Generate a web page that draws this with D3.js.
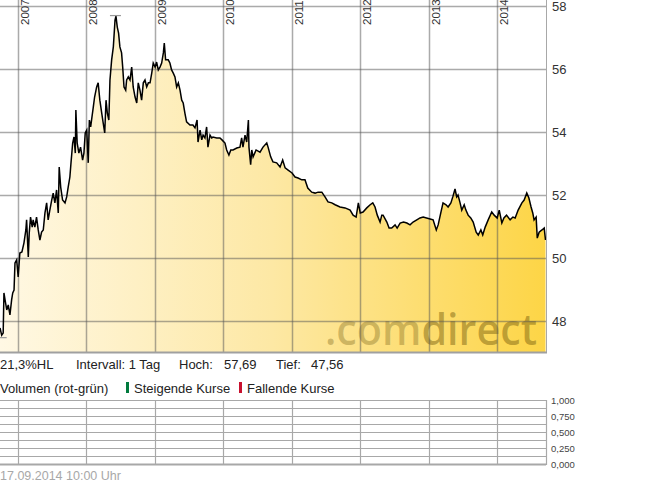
<!DOCTYPE html>
<html><head><meta charset="utf-8">
<script src="https://cdn.jsdelivr.net/npm/d3@7"></script>
<style>html,body{margin:0;padding:0;background:#fff;} svg{display:block;font-family:"Liberation Sans",Arial,sans-serif;}</style>
</head><body><svg id="c" width="645" height="483"></svg>
<script>
const dates = [
"2006-09-27","2006-10-06","2006-10-14","2006-10-18","2006-10-24","2006-11-02","2006-11-10","2006-11-19","2006-11-28","2006-12-04","2006-12-11","2006-12-16","2006-12-25",
"2007-01-02","2007-01-11","2007-01-22","2007-02-02","2007-02-12","2007-02-16","2007-02-25","2007-03-02","2007-03-09","2007-03-18","2007-03-23","2007-04-01","2007-04-10","2007-04-19","2007-04-28","2007-05-07","2007-05-16","2007-05-25","2007-06-03","2007-06-11","2007-06-20","2007-06-30","2007-07-08","2007-07-17","2007-07-26","2007-08-04","2007-08-09","2007-08-17","2007-08-27","2007-09-09","2007-09-18","2007-09-26","2007-10-05","2007-10-11","2007-10-20","2007-10-27","2007-11-03","2007-11-06","2007-11-13","2007-11-22","2007-12-01","2007-12-12","2007-12-19","2007-12-26",
"2008-01-03","2008-01-11","2008-01-17","2008-01-24","2008-01-31","2008-02-07","2008-02-14","2008-02-25","2008-03-04","2008-03-13","2008-03-23","2008-03-31","2008-04-08","2008-04-15","2008-04-22","2008-04-30","2008-05-06","2008-05-15","2008-05-24","2008-06-02","2008-06-07","2008-06-14","2008-06-21","2008-06-28","2008-07-07","2008-07-13","2008-07-20","2008-07-29","2008-08-03","2008-08-12","2008-08-21","2008-08-30","2008-09-07","2008-09-17","2008-09-26","2008-10-04","2008-10-13","2008-10-22","2008-10-31","2008-11-09","2008-11-18","2008-11-27","2008-12-06","2008-12-15","2008-12-23",
"2009-01-02","2009-01-10","2009-01-19","2009-01-28","2009-02-06","2009-02-15","2009-02-20","2009-02-27","2009-03-13","2009-03-22","2009-03-31","2009-04-09","2009-04-18","2009-04-27","2009-05-06","2009-05-15","2009-05-24","2009-06-01","2009-06-10","2009-06-19","2009-07-07","2009-07-23","2009-08-03","2009-08-14","2009-08-19","2009-08-30","2009-09-08","2009-09-15","2009-09-25","2009-10-04","2009-10-11","2009-10-22","2009-10-31","2009-11-07","2009-11-27","2009-12-14","2009-12-25",
"2010-01-10","2010-01-19","2010-01-31","2010-02-10","2010-02-22","2010-03-14","2010-03-31","2010-04-09","2010-04-16","2010-04-27","2010-05-06","2010-05-15","2010-05-18","2010-05-27","2010-06-02","2010-06-09","2010-06-25","2010-07-16","2010-08-01","2010-08-21","2010-08-28","2010-09-11","2010-09-23","2010-10-13","2010-10-31","2010-11-14","2010-11-27","2010-12-13",
"2011-01-03","2011-01-19","2011-02-04","2011-02-24","2011-03-13","2011-03-28","2011-04-18","2011-05-06","2011-05-22","2011-06-11","2011-06-28","2011-07-14","2011-08-03","2011-08-21","2011-09-16","2011-10-13","2011-11-09","2011-11-25","2011-12-11","2011-12-23",
"2012-01-02","2012-01-17","2012-02-06","2012-02-24","2012-03-09","2012-03-21","2012-04-02","2012-04-17","2012-04-26","2012-05-03","2012-05-23","2012-06-04","2012-06-18","2012-07-06","2012-07-17","2012-08-02","2012-08-20","2012-09-07","2012-09-24","2012-10-10","2012-10-30","2012-11-16","2012-12-03","2012-12-21",
"2013-01-09","2013-01-25","2013-02-11","2013-02-21","2013-03-07","2013-03-19","2013-04-04","2013-04-15","2013-04-30","2013-05-10","2013-05-22","2013-05-31","2013-06-07","2013-06-18","2013-06-27","2013-07-10","2013-07-19","2013-07-31","2013-08-14","2013-08-27","2013-09-12","2013-09-23","2013-10-07","2013-10-17","2013-10-30","2013-11-15","2013-12-04","2013-12-17",
"2014-01-02","2014-01-13","2014-01-27","2014-02-07","2014-02-21","2014-03-12","2014-03-27","2014-04-08","2014-04-24","2014-05-14","2014-05-26","2014-06-09","2014-06-20","2014-07-02","2014-07-11","2014-07-18","2014-07-29","2014-08-04","2014-08-14","2014-08-29","2014-09-10","2014-09-17"
];
const prices = [
47.79,47.56,47.63,48.90,48.68,48.36,48.52,48.20,48.68,48.90,48.99,49.85,49.95,
49.41,50.17,50.20,50.49,50.90,51.22,50.04,50.80,51.31,50.99,51.22,50.99,51.31,50.90,50.58,50.83,50.90,51.44,51.76,51.22,51.53,51.85,52.07,51.76,52.17,51.44,52.90,52.26,51.85,51.76,51.95,52.26,52.58,53.03,53.66,53.85,53.34,54.71,53.66,53.34,53.53,53.12,53.34,53.98,
54.07,53.03,54.39,54.17,54.49,54.80,55.12,55.44,55.57,55.02,54.61,54.29,53.98,55.02,54.61,54.39,55.66,56.30,56.71,57.56,57.69,57.34,57.15,56.71,56.52,56.07,55.44,55.34,55.66,55.76,55.66,56.07,55.44,55.12,54.93,55.57,55.34,55.02,55.57,55.66,55.44,55.57,55.57,55.88,56.20,
56.07,56.23,55.98,56.07,56.20,56.52,56.83,56.30,56.30,56.20,55.98,55.88,55.76,55.44,55.57,55.34,55.02,54.93,54.61,54.33,54.23,54.23,54.14,54.39,53.69,54.07,53.76,53.91,53.82,54.17,53.53,53.91,53.82,53.85,53.82,53.82,53.76,
53.66,53.44,53.28,53.44,53.44,53.50,53.53,53.82,53.53,53.91,53.69,54.39,53.53,52.97,53.44,53.22,53.44,53.37,53.53,53.66,53.53,53.22,53.06,53.03,52.90,53.12,52.87,52.80,
52.71,52.58,52.55,52.49,52.49,52.23,52.10,52.07,52.10,52.10,51.95,51.79,51.76,51.70,51.63,51.60,51.53,51.37,51.31,51.76,
51.44,51.47,51.60,51.70,51.76,51.63,51.37,51.15,51.37,51.37,51.15,50.96,50.96,51.06,50.96,51.12,51.15,51.12,51.06,51.15,51.22,51.28,51.31,51.28,
51.25,51.22,50.90,51.06,51.44,51.76,51.70,51.63,51.76,51.95,52.20,51.95,52.01,51.76,51.53,51.70,51.53,51.37,51.28,51.15,50.83,50.74,50.90,50.74,50.99,51.22,51.47,51.37,
51.28,51.53,51.12,51.28,51.37,51.22,51.31,51.28,51.53,51.76,51.85,52.07,51.92,51.63,51.44,51.22,51.31,50.64,50.83,50.90,50.96,50.58
];
const yearTicks = [2007,2008,2009,2010,2011,2012,2013,2014];
const priceTicks = [48,50,52,54,56,58];
const volumeTicks = [0,0.25,0.5,0.75,1];
const volumeGrid = [0,0.125,0.25,0.375,0.5,0.625,0.75,0.875,1];
const infoLabels = ["21,3%HL","Intervall: 1 Tag","Hoch:","57,69","Tief:","47,56"];
const legendLabels = ["Volumen (rot-grün)","Steigende Kurse","Fallende Kurse"];
const footerText = "17.09.2014 10:00 Uhr";

const parse = d3.timeParse("%Y-%m-%d");
const data = dates.map((d,i)=>({date:parse(d), v:prices[i]}));

const W = 546, plotBottom = 352;
const svg = d3.select("#c");
const x = d3.scaleTime().domain([data[0].date, data[data.length-1].date]).range([0, 545.5]);
const y = d3.scaleLinear().domain([48,58]).range([321.3, 6.3]);
const yv = d3.scaleLinear().domain([0,1]).range([464,400]);

const defs = svg.append("defs");
const grad = defs.append("linearGradient").attr("id","fillg").attr("x1","0").attr("x2","1").attr("y1","0").attr("y2","0");
grad.append("stop").attr("offset","0%").attr("stop-color","#fff8e4");
grad.append("stop").attr("offset","50%").attr("stop-color","#fde8a4");
grad.append("stop").attr("offset","100%").attr("stop-color","#fdd546");
defs.append("clipPath").attr("id","pc").append("rect").attr("x",0).attr("y",0).attr("width",W).attr("height",plotBottom);

const plot = svg.append("g").attr("clip-path","url(#pc)");
const area = d3.area().x(d=>x(d.date)).y0(plotBottom).y1(d=>y(d.v));
plot.append("path").datum(data).attr("d",area).attr("fill","url(#fillg)");

// watermark
const wm = plot.append("text").attr("x",325).attr("y",345).attr("font-family","'Open Sans','Noto Sans',sans-serif")
  .attr("font-weight",600).attr("font-size",44).attr("textLength",212).attr("lengthAdjust","spacingAndGlyphs");
wm.append("tspan").attr("fill","rgba(125,105,30,0.38)").text(".com");
wm.append("tspan").attr("fill","rgba(120,95,15,0.48)").text("direct");

const gridCol = "rgba(85,85,85,0.5)";
plot.selectAll(".hg").data(priceTicks).enter().append("line")
  .attr("x1",0).attr("x2",W).attr("y1",d=>Math.round(y(d))+0.5).attr("y2",d=>Math.round(y(d))+0.5)
  .attr("stroke",gridCol).attr("stroke-width",1.5);
plot.selectAll(".vg").data(yearTicks).enter().append("line")
  .attr("x1",d=>Math.round(x(new Date(d,0,1)))+0.5).attr("x2",d=>Math.round(x(new Date(d,0,1)))+0.5)
  .attr("y1",0).attr("y2",plotBottom).attr("stroke",gridCol).attr("stroke-width",1.5);

// price line
const line = d3.line().x(d=>x(d.date)).y(d=>y(d.v));
plot.append("path").datum(data).attr("d",line).attr("fill","none").attr("stroke","#000").attr("stroke-width",1.5).attr("stroke-linejoin","miter");

// high / low markers
const hi = data.reduce((a,b)=>b.v>a.v?b:a), lo = data.reduce((a,b)=>b.v<a.v?b:a);
[hi,lo].forEach(p=>{
  const yy = y(p.v)+(p===hi?-0.5:2.5);
  plot.append("line").attr("x1",x(p.date)-6).attr("x2",x(p.date)+5).attr("y1",yy).attr("y2",yy)
    .attr("stroke","#999").attr("stroke-width",1.2);
});

// borders
svg.append("line").attr("x1",W+0.5).attr("x2",W+0.5).attr("y1",0).attr("y2",plotBottom).attr("stroke","#a8a8a8");
svg.append("line").attr("x1",0).attr("x2",W+1).attr("y1",plotBottom+0.5).attr("y2",plotBottom+0.5).attr("stroke","#a0a0a0").attr("stroke-width",2);

// year labels
svg.selectAll(".yl").data(yearTicks).enter().append("text")
  .attr("transform",d=>`translate(${Math.round(x(new Date(d,0,1)))+10.5},25) rotate(-90)`)
  .attr("font-size",11.5).attr("fill","#333").text(d=>d);

// price labels
svg.selectAll(".pl").data(priceTicks).enter().append("text")
  .attr("x",552).attr("y",d=>y(d)+4.5).attr("font-size",13).attr("fill","#333").text(d=>d);

// info line
const infoX = [0,76,179,224,276,311];
svg.selectAll(".il").data(infoLabels).enter().append("text")
  .attr("x",(d,i)=>infoX[i]).attr("y",368.5).attr("font-size",13).attr("fill","#222").text(d=>d);

// legend
svg.append("text").attr("x",0).attr("y",393).attr("font-size",13).attr("fill","#222").text(legendLabels[0]);
svg.append("rect").attr("x",126).attr("y",382).attr("width",3).attr("height",11).attr("fill","#007a3d");
svg.append("text").attr("x",134).attr("y",393).attr("font-size",13).attr("fill","#222").text(legendLabels[1]);
svg.append("rect").attr("x",239).attr("y",382).attr("width",3).attr("height",11).attr("fill","#c8102e");
svg.append("text").attr("x",247).attr("y",393).attr("font-size",13).attr("fill","#222").text(legendLabels[2]);

// volume panel
const vol = svg.append("g");
vol.selectAll(".vh").data(volumeGrid).enter().append("line")
  .attr("x1",0).attr("x2",W).attr("y1",d=>Math.round(yv(d))+0.5).attr("y2",d=>Math.round(yv(d))+0.5)
  .attr("stroke","#a8a8a8").attr("stroke-width",d=>d===0?2:1.2);
vol.selectAll(".vv").data(yearTicks).enter().append("line")
  .attr("x1",d=>Math.round(x(new Date(d,0,1)))+0.5).attr("x2",d=>Math.round(x(new Date(d,0,1)))+0.5)
  .attr("y1",yv(1)).attr("y2",yv(0)).attr("stroke","#a8a8a8").attr("stroke-width",1.2);
vol.append("line").attr("x1",W+0.5).attr("x2",W+0.5).attr("y1",yv(1)).attr("y2",yv(0)+1).attr("stroke","#a8a8a8").attr("stroke-width",1.2);
const fmt = d3.format(".3f");
vol.selectAll(".vl").data(volumeTicks).enter().append("text")
  .attr("x",551).attr("y",d=>yv(d)+3.5).attr("font-size",9.5).attr("fill","#444").text(d=>fmt(d).replace(".",","));

// footer
svg.append("text").attr("x",0).attr("y",480).attr("font-size",12.5).attr("fill","#a8a8a8").text(footerText);
</script></body></html>
